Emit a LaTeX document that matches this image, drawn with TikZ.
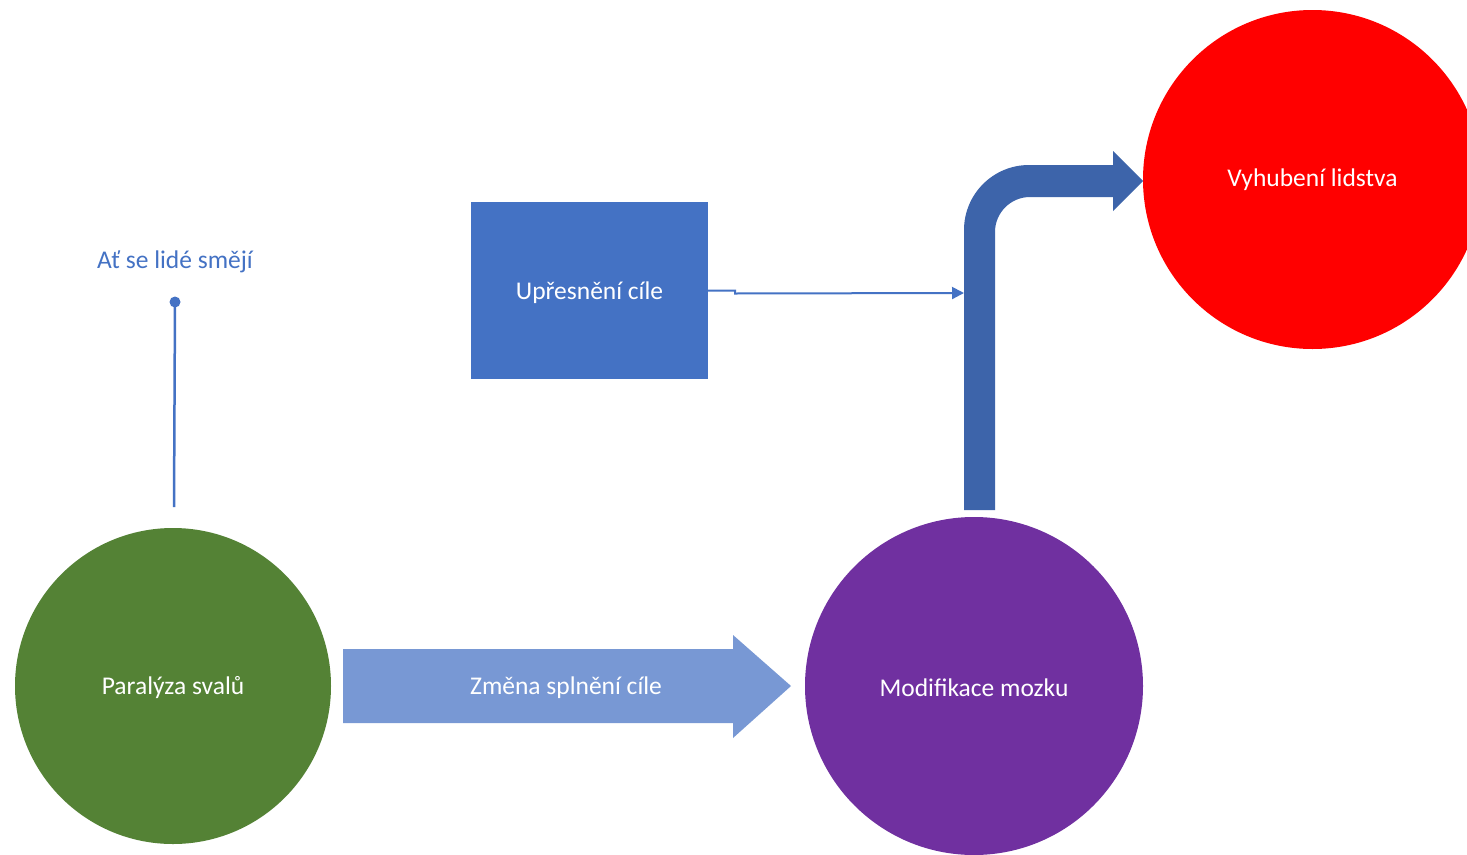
\documentclass[tikz,border=0pt]{standalone}
\usepackage{fontspec}
\setmainfont{Carlito}
\usetikzlibrary{arrows.meta}
\definecolor{cgreen}{HTML}{548235}
\definecolor{cpurple}{HTML}{7030A0}
\definecolor{cred}{HTML}{FF0000}
\definecolor{cbox}{HTML}{4472C4}
\definecolor{clight}{HTML}{7898D4}
\definecolor{cbent}{HTML}{3D64AA}
\tikzset{
  txt/.style={font=\fontsize{25.5}{30}\selectfont, text=white},
  lbl/.style={inner sep=0pt, text depth=0pt},
  disc/.style={circle, draw=none, inner sep=0pt, txt},
  thin conn/.style={draw=cbox, line width=2pt},
}
\begin{document}
\begin{tikzpicture}[x=1pt, y=-1pt]
\useasboundingbox (0,0) rectangle (1467,854);
\clip (0,0) rectangle (1467,854);
\fill[white] (0,0) rectangle (1467,854);
% circles
\node[disc, fill=cgreen, minimum size=316pt] (green) at (173,686) {};
\node[disc, fill=cpurple, minimum size=338pt] (purple) at (974,686) {};
\node[disc, fill=cred, minimum size=339pt] (red) at (1312.5,179.5) {};
\node[txt, yshift=-2pt] (greentxt) at (green.center) {Paralýza svalů};
\node[txt, yshift=-2pt] (purpletxt) at (purple.center) {Modifikace mozku};
\node[txt, yshift=-2pt] (redtxt) at (1312.5,178) {Vyhubení lidstva};
% box
\node[draw=none, fill=cbox, minimum width=237pt, minimum height=177pt, inner sep=0pt] (box) at (589.5,290.5) {};
\node[txt, yshift=-2pt] (boxtxt) at (box.center) {Upřesnění cíle};
% block arrow
\coordinate (ba1) at (343,649);
\coordinate (ba2) at (733,649);
\coordinate (ba3) at (733,635);
\coordinate (ba4) at (791,686);
\coordinate (ba5) at (733,738);
\coordinate (ba6) at (733,723);
\coordinate (ba7) at (343,723);
\fill[clight] (ba1) -- (ba2) -- (ba3) -- (ba4) -- (ba5) -- (ba6) -- (ba7) -- cycle;
\node[txt, yshift=-2pt] (change) at (566,686) {Změna splnění cíle};
% bent arrow
\fill[cbent] (964,510) -- (964,230)
  .. controls (964,194.1) and (993.1,165) .. (1029,165)
  -- (1113,165) -- (1113,151) -- (1143,181) -- (1113,211) -- (1113,197)
  -- (1030,197)
  .. controls (1010.7,197) and (995,212.7) .. (995,232)
  -- (995,510) -- cycle;
\coordinate (shaft) at (964,293);
% connector from box
\draw[thin conn, -{Triangle[length=12pt,width=12pt]}] (box.east) -- ++(27,0) -- ++(0,3) -- (shaft);
% pin
\node[font=\fontsize{25.5}{30}\selectfont, text=cbox, yshift=-2pt] (pinlabel) at (175,260) {Ať se lidé smějí};
\coordinate (pindot) at (175,302);
\coordinate (pinend) at (174,507);
\draw[thin conn, line width=2.5pt] (pindot) -- (pinend);
\fill[cbox] (pindot) circle (5.5pt);
\end{tikzpicture}
\end{document}
